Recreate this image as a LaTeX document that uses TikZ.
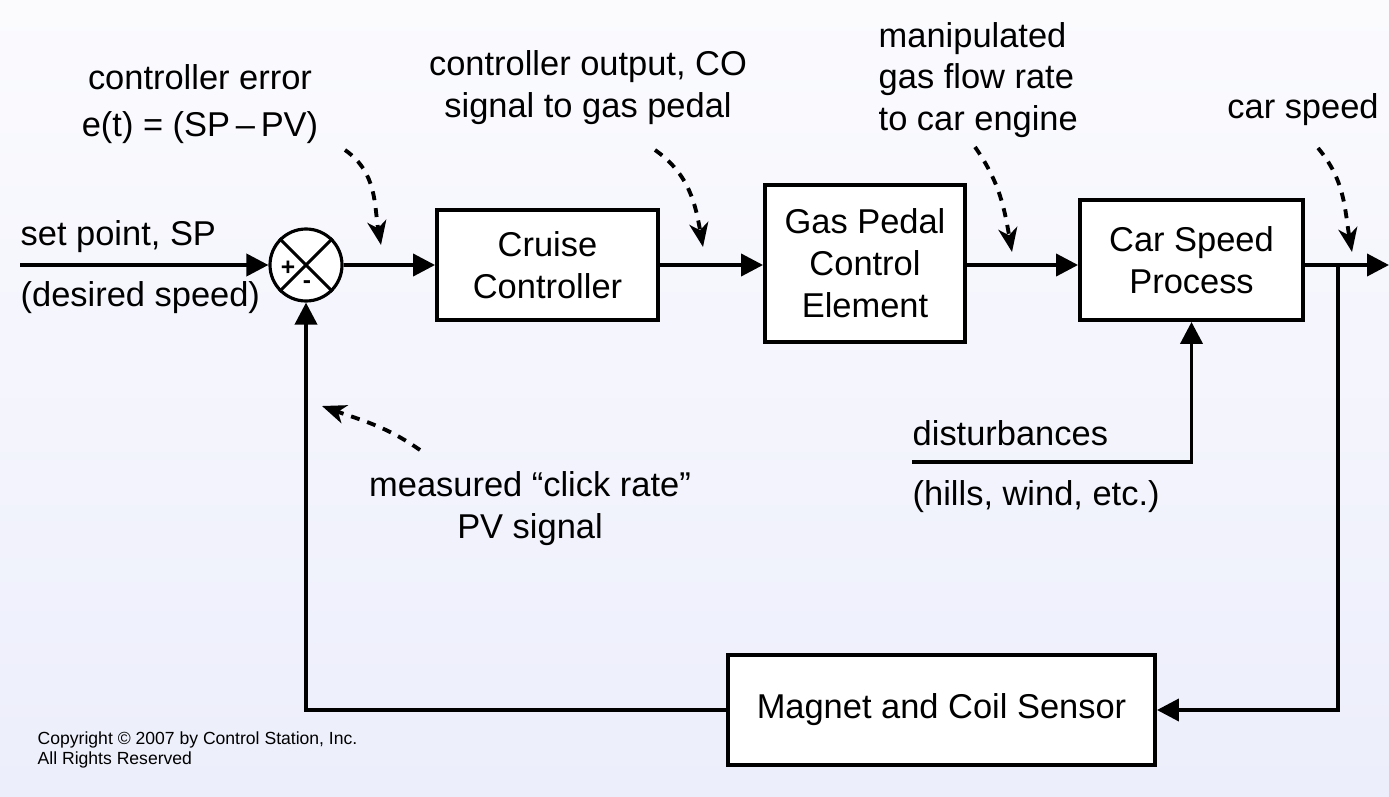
\documentclass[tikz,border=0pt]{standalone}
\usepackage{fontspec}
\setmainfont{Liberation Sans}
\usepackage{tikz}
\usetikzlibrary{arrows.meta, positioning, calc}
\definecolor{bgtop}{RGB}{251,251,254}
\definecolor{bgbot}{RGB}{236,238,251}

\begin{document}
\begin{tikzpicture}[
  block/.style={rectangle, draw, fill=white, line width=1.1pt, inner sep=0pt,
    align=center, font=\fontsize{9.8}{11.9}\selectfont},
  note/.style={inner sep=0pt, font=\fontsize{9.8}{11.9}\selectfont},
  arrow/.style={-{Triangle[length=0.22cm,width=0.22cm]}, line width=1.1pt},
  hint/.style={-{Stealth[length=0.24cm,width=0.19cm,inset=0.07cm]}, line width=1.1pt,
    dash pattern=on 0.09cm off 0.08cm},
]

\shade[top color=bgtop, bottom color=bgbot] (0,0) rectangle (13.89,7.96);
\useasboundingbox (0,0) rectangle (13.89,7.96);

% summing junction
\node[circle, draw, fill=white, line width=0.9pt, minimum size=0.72cm, inner sep=0pt] (sum) at (3.06,5.31) {};
\draw[line width=0.9pt] (sum.north west) -- (sum.south east);
\draw[line width=0.9pt] (sum.north east) -- (sum.south west);
\node[font=\fontsize{7}{7}\selectfont\bfseries, inner sep=0pt] (plus) at (2.88,5.28) {+};
\node[font=\fontsize{7}{7}\selectfont\bfseries, inner sep=0pt] (minus) at (3.07,5.11) {-};

% blocks
\node[block, minimum width=2.21cm, minimum height=1.10cm] (cruise) at (5.475,5.31) {Cruise\\Controller};
\node[block, minimum width=2.00cm, minimum height=1.57cm] (pedal) at (8.65,5.325) {Gas Pedal\\Control\\Element};
\node[block, minimum width=2.23cm, minimum height=1.20cm] (process) at (11.915,5.36) {Car Speed\\Process};
\node[block, minimum width=4.27cm, minimum height=1.10cm] (sensor) at (9.415,0.86) {Magnet and Coil Sensor};

\coordinate (spin) at (0.20,5.31);
\coordinate (branch) at (13.38,5.31);
\coordinate (out) at (13.89,5.31);
\coordinate (distin) at (9.12,3.34);

% signal lines
\draw[arrow] (spin) -- (sum.west);
\draw[arrow] (sum.east) -- (cruise.west);
\draw[arrow] (cruise.east) -- (cruise.east -| pedal.west);
\draw[arrow] (cruise.east -| pedal.east) -- (cruise.east -| process.west);
\draw[arrow] (cruise.east -| process.east) -- (out);
\draw[arrow] (branch) |- (sensor.east);
\draw[arrow] (sensor.west) -| (sum.south);
\draw[arrow] (distin) -| (process.south);

% labels
\node[note, anchor=west] (sp) at (0.20,5.59) {set point, SP};
\node[note, anchor=west] (desired) at (0.20,4.98) {(desired speed)};
\node[note, align=center, font=\fontsize{9.8}{13.6}\selectfont] (error) at (2.0,6.92) {controller error\\e(t) = (SP\,\textendash\,PV)};
\node[note, align=center] (co) at (5.88,7.08) {controller output, CO\\signal to gas pedal};
\node[note, align=left, anchor=west] (flow) at (8.78,7.16) {manipulated\\gas flow rate\\to car engine};
\node[note] (speed) at (13.03,6.86) {car speed};
\node[note, align=center] (pv) at (5.30,2.87) {measured “click rate”\\PV signal};
\node[note, anchor=west] (dist) at (9.12,3.63) {disturbances};
\node[note, anchor=west] (hills) at (9.12,2.99) {(hills, wind, etc.)};
\node[note, align=left, anchor=west, font=\fontsize{5}{5.7}\selectfont] (copy) at (0.37,0.46) {Copyright © 2007 by Control Station, Inc.\\All Rights Reserved};

% dashed pointers
\coordinate (e1) at (3.45,6.46); \coordinate (e2) at (3.81,5.51);
\coordinate (c1) at (6.55,6.46); \coordinate (c2) at (7.03,5.49);
\coordinate (f1) at (9.75,6.49); \coordinate (f2) at (10.12,5.44);
\coordinate (s1) at (13.18,6.48); \coordinate (s2) at (13.52,5.44);
\coordinate (p1) at (4.20,3.46); \coordinate (p2) at (3.22,3.90);
\draw[hint] (e1) to[out=-35,in=100] (e2);
\draw[hint] (c1) to[out=-35,in=100] (c2);
\draw[hint] (f1) to[out=-55,in=100] (f2);
\draw[hint] (s1) to[out=-50,in=100] (s2);
\draw[hint] (p1) to[out=145,in=-20] (p2);

\end{tikzpicture}
\end{document}
